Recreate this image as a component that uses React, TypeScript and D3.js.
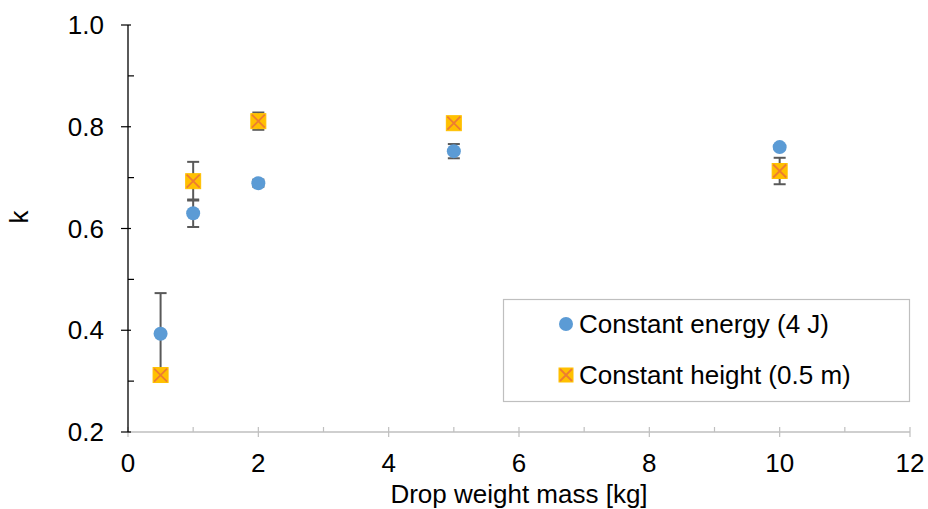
import React, { useRef, useEffect } from "react";
import * as d3 from "d3";

// masses in kg
const masses = [0.5, 1, 2, 5, 10];
// constant energy (4 J)
const energyK = [0.393, 0.63, 0.689, 0.752, 0.76];
const energyErr = [0.08, 0.027, 0.007, 0.014, 0.004];
// constant height (0.5 m)
const heightK = [0.312, 0.693, 0.811, 0.807, 0.713];
const heightErr = [0.003, 0.038, 0.017, 0.003, 0.026];

const xTicks = [0, 2, 4, 6, 8, 10, 12];
const yTicks = [0.2, 0.4, 0.6, 0.8, 1.0];

const W = 928;
const H = 509;
const FONT = "'Liberation Sans', Arial, sans-serif";
const FS = 26;
const BLUE = "#5b9bd5";
const GOLD = "#ffc000";
const ORANGE = "#ed7d31";

const App = () => {
  const svgRef = useRef<SVGSVGElement>(null);

  useEffect(() => {
    const svg = d3.select(svgRef.current);
    svg.selectAll("*").remove();

    const x = d3.scaleLinear().domain([0, 12]).range([128, 910]);
    const y = d3.scaleLinear().domain([0.2, 1.0]).range([432, 25]);

    const g = svg.append("g");

    // x axis (grey), major ticks crossing, minor above
    g.append("line")
      .attr("x1", x(0)).attr("x2", x(12))
      .attr("y1", y(0.2)).attr("y2", y(0.2))
      .attr("stroke", "#bfbfbf").attr("stroke-width", 1.5);
    d3.range(0, 13, 1).forEach((v) => {
      const major = v % 2 === 0;
      g.append("line")
        .attr("x1", x(v)).attr("x2", x(v))
        .attr("y1", y(0.2) - 5).attr("y2", y(0.2) + (major ? 5 : 0))
        .attr("stroke", "#bfbfbf").attr("stroke-width", 1.2);
    });
    g.selectAll(".xl")
      .data(xTicks)
      .enter()
      .append("text")
      .attr("x", (d) => x(d))
      .attr("y", 472)
      .attr("text-anchor", "middle")
      .attr("font-family", FONT)
      .attr("font-size", FS)
      .attr("fill", "#000")
      .text((d) => d);

    // y axis (black)
    g.append("line")
      .attr("x1", x(0)).attr("x2", x(0))
      .attr("y1", y(1.0)).attr("y2", y(0.2))
      .attr("stroke", "#000").attr("stroke-width", 1.3);
    d3.range(0.2, 1.01, 0.1).forEach((v) => {
      const major = Math.round(v * 10) % 2 === 0;
      g.append("line")
        .attr("x1", x(0) - (major ? 7 : 0)).attr("x2", x(0) + (major ? 3 : 6))
        .attr("y1", y(v)).attr("y2", y(v))
        .attr("stroke", "#000").attr("stroke-width", 1.2);
    });
    g.selectAll(".yl")
      .data(yTicks)
      .enter()
      .append("text")
      .attr("x", 104)
      .attr("y", (d) => y(d) + 9)
      .attr("text-anchor", "end")
      .attr("font-family", FONT)
      .attr("font-size", FS)
      .attr("fill", "#000")
      .text((d) => d.toFixed(1));

    // axis titles
    g.append("text")
      .attr("x", 519).attr("y", 503)
      .attr("text-anchor", "middle")
      .attr("font-family", FONT).attr("font-size", FS)
      .text("Drop weight mass [kg]");
    g.append("text")
      .attr("transform", `translate(28,217) rotate(-90)`)
      .attr("text-anchor", "middle")
      .attr("font-family", FONT).attr("font-size", FS)
      .text("k");

    // error bars
    const errBars = (vals: number[], errs: number[]) => {
      masses.forEach((m, i) => {
        const cx = x(m);
        const top = y(vals[i] + errs[i]);
        const bot = y(vals[i] - errs[i]);
        g.append("line")
          .attr("x1", cx).attr("x2", cx).attr("y1", top).attr("y2", bot)
          .attr("stroke", "#595959").attr("stroke-width", 2);
        [top, bot].forEach((yy) =>
          g.append("line")
            .attr("x1", cx - 6).attr("x2", cx + 6).attr("y1", yy).attr("y2", yy)
            .attr("stroke", "#595959").attr("stroke-width", 2)
        );
      });
    };
    errBars(energyK, energyErr);
    errBars(heightK, heightErr);

    const circle = (sel: any, cx: number, cy: number) =>
      sel.append("circle").attr("cx", cx).attr("cy", cy).attr("r", 7).attr("fill", BLUE);

    const square = (sel: any, cx: number, cy: number, s = 15) => {
      const h = s / 2;
      sel.append("rect")
        .attr("x", cx - h).attr("y", cy - h).attr("width", s).attr("height", s)
        .attr("fill", GOLD).attr("stroke", GOLD).attr("stroke-width", 1);
      sel.append("path")
        .attr("d", `M${cx - h + 1},${cy - h + 1}L${cx + h - 1},${cy + h - 1}M${cx + h - 1},${cy - h + 1}L${cx - h + 1},${cy + h - 1}`)
        .attr("stroke", ORANGE).attr("stroke-width", 1.8).attr("fill", "none");
    };

    masses.forEach((m, i) => circle(g, x(m), y(energyK[i])));
    masses.forEach((m, i) => square(g, x(m), y(heightK[i])));

    // legend
    const lg = g.append("g");
    lg.append("rect")
      .attr("x", 503.5).attr("y", 299.5).attr("width", 406).attr("height", 102)
      .attr("fill", "#fff").attr("stroke", "#bfbfbf").attr("stroke-width", 1.2);
    circle(lg, 566, 324);
    lg.append("text")
      .attr("x", 579).attr("y", 333)
      .attr("font-family", FONT).attr("font-size", FS)
      .text("Constant energy (4 J)");
    square(lg, 566, 375, 14);
    lg.append("text")
      .attr("x", 579).attr("y", 384)
      .attr("font-family", FONT).attr("font-size", FS)
      .text("Constant height (0.5 m)");
  }, []);

  return (
    <svg
      ref={svgRef}
      width={W}
      height={H}
      style={{ position: "absolute", left: 0, top: 0, background: "#fff" }}
    ></svg>
  );
};

export default App;
